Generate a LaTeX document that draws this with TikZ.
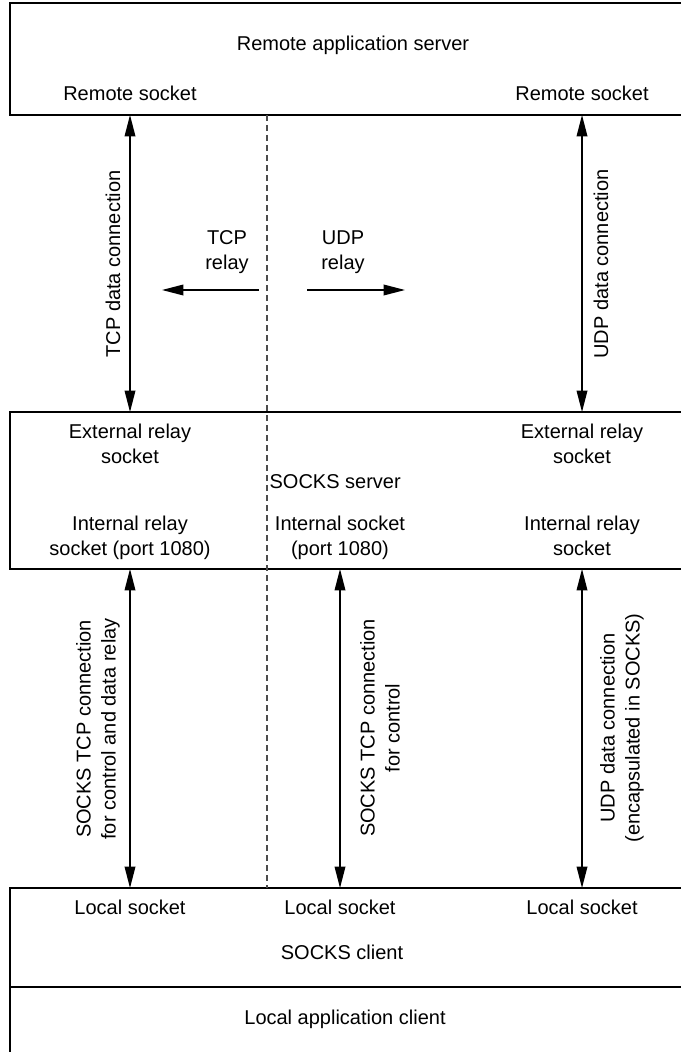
\documentclass[tikz,border=0pt]{standalone}
\usepackage{fontspec}
\setmainfont{Liberation Sans}
\usetikzlibrary{arrows.meta}
\tikzset{
  layer/.style={draw, line width=1.2pt, inner sep=0pt, outer sep=0pt, minimum width=532.5pt},
  lbl/.style={align=center, inner sep=1pt, font=\fontsize{15}{18.75}\selectfont},
  conn/.style={line width=1pt, {Triangle[length=16pt,width=8pt]}-{Triangle[length=16pt,width=8pt]}},
  relay/.style={line width=1pt, -{Triangle[length=16pt,width=8pt]}},
  divider/.style={line width=0.8pt, dash pattern=on 4.5pt off 3pt, gray!60!black}
}

\begin{document}
\begin{tikzpicture}[x=0.75pt,y=-0.75pt]
\useasboundingbox (0,0) rectangle (681,1052);
\clip (0,0) rectangle (681,1052);

  \node[layer, minimum height=84pt] (srv) at (365,59) {};
  \node[layer, minimum height=117.75pt] (ssrv) at (365,490.5) {};
  \node[layer, minimum height=74.25pt] (cli) at (365,937.5) {};
  \node[layer, minimum height=69.75pt] (app) at (365,1033.5) {};

  \node[lbl] (srvname) at (353,45) {Remote application server};
  \node[lbl] (rsockL) at (130,93) {Remote socket};
  \node[lbl] (rsockR) at (582,93) {Remote socket};

  \node[lbl] (extL) at (130,444) {External relay\\socket};
  \node[lbl] (extR) at (582,444) {External relay\\socket};
  \node[lbl, anchor=west] (ssrvname) at (268,482) {SOCKS server};
  \node[lbl] (intL) at (130,538) {Internal relay\\socket (port 1080)};
  \node[lbl] (intM) at (340,538) {Internal socket\\(port 1080)};
  \node[lbl] (intR) at (582,535.5) {Internal relay\\socket};

  \node[lbl] (lsockL) at (130,907) {Local socket};
  \node[lbl] (lsockM) at (340,907) {Local socket};
  \node[lbl] (lsockR) at (582,907) {Local socket};
  \node[lbl] (cliname) at (342,952) {SOCKS client};
  \node[lbl] (appname) at (345,1019) {Local application client};

  \node[lbl, rotate=90] (tcpdata) at (113,264) {TCP data connection};
  \node[lbl, rotate=90] (udpdata) at (601,264) {UDP data connection};
  \node[lbl] (tcprly) at (227,252) {TCP\\relay};
  \node[lbl] (udprly) at (343,252) {UDP\\relay};

  \node[lbl, rotate=90] (ctlL) at (98,729) {SOCKS TCP connection\\for control and data relay};
  \node[lbl, rotate=90] (ctlM) at (380,728) {SOCKS TCP connection\\for control};
  \node[lbl, rotate=90] (udpL) at (622,728) {UDP data connection\\(encapsulated in SOCKS)};

  \coordinate (divx) at (267,0);
  \coordinate (tcpA) at (259,290);
  \coordinate (tcpB) at (162,290);
  \coordinate (udpA) at (307,290);
  \coordinate (udpB) at (405,290);

  \draw[divider] (srv.south -| divx) -- (cli.north -| divx);

  \draw[conn] (srv.south -| rsockL) -- (ssrv.north -| extL);
  \draw[conn] (srv.south -| rsockR) -- (ssrv.north -| extR);
  \draw[relay] (tcpA) -- (tcpB);
  \draw[relay] (udpA) -- (udpB);

  \draw[conn] (ssrv.south -| intL) -- (cli.north -| lsockL);
  \draw[conn] (ssrv.south -| intM) -- (cli.north -| lsockM);
  \draw[conn] (ssrv.south -| intR) -- (cli.north -| lsockR);
\end{tikzpicture}
\end{document}
